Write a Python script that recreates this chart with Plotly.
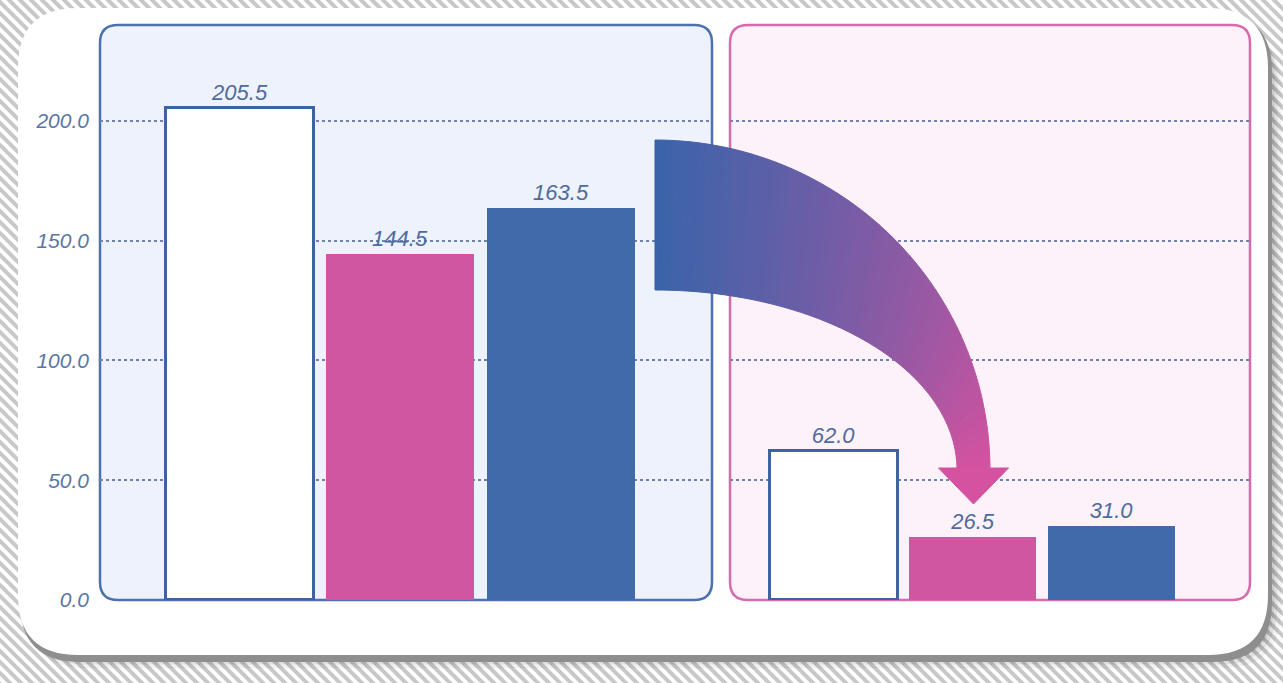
import numpy as np
import plotly.graph_objects as go

W, H = 1283, 683

# ---- data ----
series = ["Series 1", "Series 2", "Series 3"]
before = [205.5, 144.5, 163.5]
after = [62.0, 26.5, 31.0]
tick_vals = [0, 50, 100, 150, 200]
tick_text = ["0.0", "50.0", "100.0", "150.0", "200.0"]

bar_fill = ["#ffffff", "#d156a2", "#416aaa"]
bar_line = ["#3d63a3", "#d156a2", "#416aaa"]
bar_lw = [3, 0, 0]

LABEL_COLOR = "#4e6b9e"
FONT = "Liberation Sans, Arial, sans-serif"


def X(px):
    return px / W


def Y(py):
    return 1 - py / H


def rrect(x0, y0, x1, y1, r):
    return (f"M {X(x0 + r)},{Y(y0)} L {X(x1 - r)},{Y(y0)} "
            f"Q {X(x1)},{Y(y0)} {X(x1)},{Y(y0 + r)} L {X(x1)},{Y(y1 - r)} "
            f"Q {X(x1)},{Y(y1)} {X(x1 - r)},{Y(y1)} L {X(x0 + r)},{Y(y1)} "
            f"Q {X(x0)},{Y(y1)} {X(x0)},{Y(y1 - r)} L {X(x0)},{Y(y0 + r)} "
            f"Q {X(x0)},{Y(y0)} {X(x0 + r)},{Y(y0)} Z")


def poly(pts):
    return "M " + " L ".join(f"{X(a)},{Y(b)}" for a, b in pts) + " Z"


PLOT_TOP, PLOT_BOT = 25, 600
L0, L1 = 100, 712
R0, R1 = 730, 1250

shapes = []

# striped background
seg = []
for x0 in range(-700, 1300, 11):
    seg.append(f"M {X(x0)},{Y(-5)} L {X(x0 + 693)},{Y(688)}")
shapes.append(dict(type="path", xref="paper", yref="paper", path=" ".join(seg),
                   line=dict(color="#c8c8c8", width=4), layer="below"))

# card shadow & rim
for off, a in [(22, 0.05), (16, 0.07), (11, 0.09)]:
    shapes.append(dict(type="path", xref="paper", yref="paper",
                       path=rrect(18 + off * 0.4, 8 + off, 1268 + off * 0.6, 655 + off * 0.6, 60),
                       fillcolor=f"rgba(0,0,0,{a})", line=dict(width=0), layer="below"))
shapes.append(dict(type="path", xref="paper", yref="paper",
                   path=rrect(20, 12, 1272, 662, 60),
                   fillcolor="#8e8e8e", line=dict(width=0), layer="below"))
shapes.append(dict(type="path", xref="paper", yref="paper",
                   path=rrect(18, 8, 1268, 655, 60),
                   fillcolor="#ffffff", line=dict(width=0), layer="below"))

# panels
shapes.append(dict(type="path", xref="paper", yref="paper",
                   path=rrect(L0, PLOT_TOP, L1, PLOT_BOT, 18),
                   fillcolor="#eef2fc", line=dict(width=0), layer="below"))
shapes.append(dict(type="path", xref="paper", yref="paper",
                   path=rrect(R0, PLOT_TOP, R1, PLOT_BOT, 18),
                   fillcolor="#fdf1fa", line=dict(width=0), layer="below"))
shapes.append(dict(type="path", xref="paper", yref="paper",
                   path=rrect(L0, PLOT_TOP, L1, PLOT_BOT, 18),
                   fillcolor="rgba(0,0,0,0)", line=dict(color="#4d72ab", width=2.5), layer="between"))
shapes.append(dict(type="path", xref="paper", yref="paper",
                   path=rrect(R0, PLOT_TOP, R1, PLOT_BOT, 18),
                   fillcolor="rgba(0,0,0,0)", line=dict(color="#d86aae", width=2.5), layer="between"))

# gradient curved arrow
cx, cy = 655, 470
rox, roy = 335, 330
rix, riy = 302, 180
c0 = np.array([58, 100, 170])
c1 = np.array([212, 82, 160])
N = 60
ts = np.linspace(0, np.pi / 2, N + 1)
for i in range(N):
    ta, tb = ts[i], ts[i + 1]
    pts = [
        (cx + rox * np.sin(ta), cy - roy * np.cos(ta)),
        (cx + rox * np.sin(tb), cy - roy * np.cos(tb)),
        (cx + rix * np.sin(tb), cy - riy * np.cos(tb)),
        (cx + rix * np.sin(ta), cy - riy * np.cos(ta)),
    ]
    f = (i + 0.5) / N
    c = (c0 * (1 - f) + c1 * f).astype(int)
    col = f"rgb({c[0]},{c[1]},{c[2]})"
    shapes.append(dict(type="path", xref="paper", yref="paper", path=poly(pts),
                       fillcolor=col, line=dict(color=col, width=1), layer="above"))
tipx = cx + (rox + rix) / 2
shapes.append(dict(type="path", xref="paper", yref="paper",
                   path=poly([(tipx - 35, cy - 2), (tipx + 35, cy - 2), (tipx, cy + 34)]),
                   fillcolor="rgb(212,82,160)", line=dict(color="rgb(212,82,160)", width=1),
                   layer="above"))

fig = go.Figure()
for xa, ya, vals in [("x", "y", before), ("x2", "y2", after)]:
    fig.add_trace(go.Bar(x=[0, 1, 2], y=vals, width=0.92, xaxis=xa, yaxis=ya,
                         marker=dict(color=bar_fill, line=dict(color=bar_line, width=bar_lw)),
                         texttemplate="%{y:.1f}", textposition="outside", cliponaxis=False,
                         textfont=dict(family=FONT, size=22, color=LABEL_COLOR, style="italic"),
                         hovertext=series))

yax = dict(domain=[Y(PLOT_BOT), Y(PLOT_TOP)], showgrid=True,
           griddash="dot", gridcolor="#6d82ad", gridwidth=1.6, zeroline=False,
           tickvals=tick_vals, ticktext=tick_text, ticks="", showline=False,
           automargin=False, fixedrange=True, ticklabelstandoff=10,
           tickfont=dict(family=FONT, size=21, color="#5a76a8", style="italic"))
fig.update_layout(
    width=W, height=H,
    margin=dict(l=0, r=0, t=0, b=0),
    paper_bgcolor="#ffffff", plot_bgcolor="rgba(0,0,0,0)",
    showlegend=False, bargap=0,
    xaxis=dict(domain=[X(L0), X(L1)], range=[-0.87, 2.94], anchor="y",
               showticklabels=False, showgrid=False, zeroline=False, fixedrange=True),
    xaxis2=dict(domain=[X(R0), X(R1)], range=[-0.75, 3.0], anchor="y2",
                showticklabels=False, showgrid=False, zeroline=False, fixedrange=True),
    yaxis=dict(anchor="x", range=[0, 240], **yax),
    yaxis2=dict(anchor="x2", matches="y", **yax),
    shapes=shapes,
)
fig.update_layout(yaxis2=dict(showticklabels=False))

fig.write_html("out.html")
